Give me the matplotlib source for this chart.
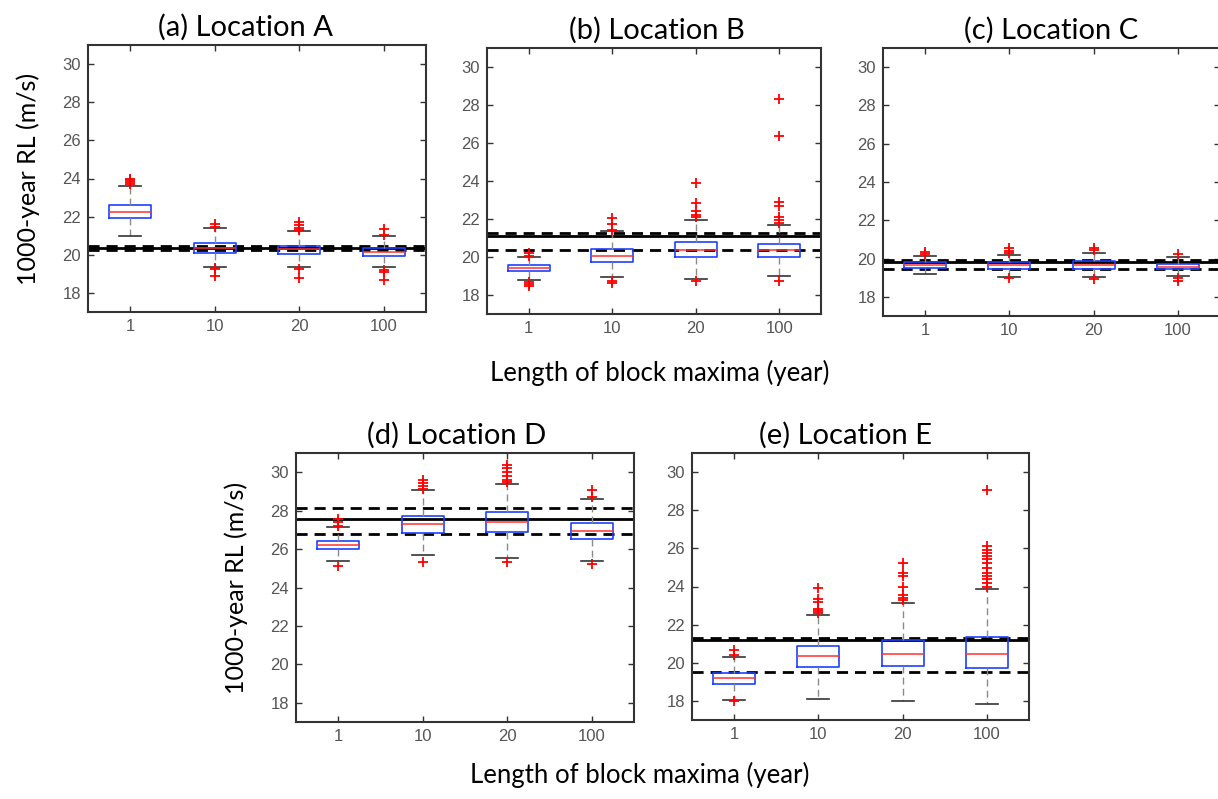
import matplotlib
matplotlib.use("Agg")
import matplotlib.pyplot as plt

# Block maxima lengths (x categories)
block_labels = ["1", "10", "20", "100"]

# Location A
a_q1 = [21.93, 20.10, 20.04, 19.92]
a_med = [22.26, 20.36, 20.31, 20.13]
a_q3 = [22.59, 20.62, 20.48, 20.36]
a_lo = [21.00, 19.36, 19.36, 19.36]
a_hi = [23.59, 21.41, 21.23, 20.97]
a_out = [[23.7, 23.8, 23.9, 24.0],
         [21.46, 21.63, 19.3, 19.25, 18.9],
         [21.3, 21.4, 21.55, 21.72, 19.25, 18.8],
         [21.05, 21.35, 19.2, 19.08, 18.7]]
a_lines = [20.38, 20.45, 20.27]  # solid, dashed, dashed

# Location B
b_q1 = [19.24, 19.73, 20.00, 20.00]
b_med = [19.42, 20.06, 20.38, 20.38]
b_q3 = [19.56, 20.41, 20.78, 20.68]
b_lo = [18.80, 18.93, 18.86, 18.98]
b_hi = [19.98, 21.38, 21.95, 21.69]
b_out = [[20.03, 20.2, 18.7, 18.6, 18.45],
         [21.43, 21.74, 22.04, 18.72, 18.63],
         [22.13, 22.22, 22.43, 22.86, 23.9, 18.75],
         [21.8, 21.95, 22.13, 22.7, 22.88, 26.36, 28.29, 18.72]]
b_lines = [21.12, 21.25, 20.38]

# Location C
c_q1 = [19.50, 19.46, 19.46, 19.43]
c_med = [19.64, 19.64, 19.66, 19.57]
c_q3 = [19.81, 19.81, 19.85, 19.72]
c_lo = [19.20, 19.03, 19.03, 19.08]
c_hi = [20.16, 20.21, 20.30, 20.07]
c_out = [[20.25, 20.33],
         [20.27, 20.39, 20.56, 18.96],
         [20.44, 20.56, 18.94],
         [20.23, 18.99, 18.85]]
c_lines = [19.83, 19.90, 19.46]

# Location D
d_q1 = [26.00, 26.84, 26.90, 26.53]
d_med = [26.23, 27.29, 27.42, 26.95]
d_q3 = [26.44, 27.73, 27.91, 27.37]
d_lo = [25.36, 25.67, 25.52, 25.36]
d_hi = [27.14, 29.08, 29.37, 28.60]
d_out = [[27.2, 27.4, 27.58, 25.12],
         [29.15, 29.3, 29.45, 29.6, 25.33],
         [29.48, 29.6, 29.78, 30.0, 30.21, 30.38, 25.33],
         [28.73, 29.08, 25.24]]
d_lines = [27.54, 28.15, 26.81]

# Location E
e_q1 = [18.89, 19.77, 19.82, 19.73]
e_med = [19.19, 20.34, 20.47, 20.48]
e_q3 = [19.47, 20.90, 21.18, 21.36]
e_lo = [18.07, 18.09, 17.98, 17.84]
e_hi = [20.29, 22.50, 23.14, 23.88]
e_out = [[20.4, 20.66, 17.98],
         [22.6, 22.7, 22.83, 23.18, 23.32, 23.93],
         [23.28, 23.4, 23.58, 24.0, 24.54, 24.72, 25.24],
         [24.0, 24.19, 24.37, 24.54, 24.72, 24.98, 25.21, 25.42, 25.59,
          25.77, 25.94, 26.12, 29.04]]
e_lines = [21.18, 21.29, 19.52]

titles = ["(a) Location A", "(b) Location B", "(c) Location C",
          "(d) Location D", "(e) Location E"]

W, H = 1218, 799
# axes boxes in pixels: left, top, right, bottom
boxes_px = [(88, 45, 426, 312), (487, 48, 821, 314), (883, 48, 1220, 316),
            (296, 453, 634, 722), (692, 453, 1029, 720)]
# title centre in axes fraction
title_x = [0.467, 0.51, 0.50, 0.476, 0.456]

TITLE_FONT = "Lato"
TICK_FONT = "Liberation Sans"

panels = [
    (a_q1, a_med, a_q3, a_lo, a_hi, a_out, a_lines),
    (b_q1, b_med, b_q3, b_lo, b_hi, b_out, b_lines),
    (c_q1, c_med, c_q3, c_lo, c_hi, c_out, c_lines),
    (d_q1, d_med, d_q3, d_lo, d_hi, d_out, d_lines),
    (e_q1, e_med, e_q3, e_lo, e_hi, e_out, e_lines),
]

fig = plt.figure(figsize=(W / 100, H / 100), dpi=100)

for i, (q1, med, q3, lo, hi, out, lines) in enumerate(panels):
    l, t, r, b = boxes_px[i]
    ax = fig.add_axes([l / W, 1 - b / H, (r - l) / W, (b - t) / H])

    stats = []
    for k in range(len(block_labels)):
        stats.append(dict(q1=q1[k], med=med[k], q3=q3[k],
                          whislo=lo[k], whishi=hi[k], fliers=out[k]))
    ax.bxp(stats, positions=range(1, 5), widths=0.5, capwidths=0.26,
           boxprops=dict(color="#1f3fff", lw=1.2),
           medianprops=dict(color="#ff3030", lw=1.1),
           whiskerprops=dict(color="#8a8a8a", lw=1.0, linestyle=(0, (5, 3))),
           capprops=dict(color="#333333", lw=1.2),
           flierprops=dict(marker="+", markeredgecolor="red",
                           markersize=6.5, markeredgewidth=1.3),
           zorder=3)

    # reference return levels
    ax.axhline(lines[0], color="black", lw=2.0, zorder=2)
    ax.axhline(lines[1], color="black", lw=2.0, ls=(0, (4, 2.5)), zorder=2)
    ax.axhline(lines[2], color="black", lw=2.0, ls=(0, (4, 2.5)), zorder=2)

    ax.set_xlim(0.5, 4.5)
    ax.set_ylim(17, 31)
    ax.set_yticks([18, 20, 22, 24, 26, 28, 30])
    ax.set_xticks(range(1, 5))
    ax.set_xticklabels(block_labels)
    ax.tick_params(direction="in", length=4, width=1, top=True, right=True,
                   colors="#333333", labelcolor="#555555", labelsize=12,
                   pad=5)
    for lab in ax.get_xticklabels() + ax.get_yticklabels():
        lab.set_family(TICK_FONT)
    for sp in ax.spines.values():
        sp.set_color("#333333")
        sp.set_linewidth(1.5)

    ax.set_title(titles[i], fontsize=21, family=TITLE_FONT, pad=7,
                 x=title_x[i])
    if i in (0, 3):
        ax.set_ylabel("1000-year RL (m/s)", fontsize=18, family=TITLE_FONT,
                      labelpad=16)

fig.text(660 / W, 1 - 373 / H, "Length of block maxima (year)", fontsize=18.5,
         family=TITLE_FONT, ha="center", va="center")
fig.text(640 / W, 1 - 775 / H, "Length of block maxima (year)", fontsize=18.5,
         family=TITLE_FONT, ha="center", va="center")

fig.savefig("out.png", dpi=100)
